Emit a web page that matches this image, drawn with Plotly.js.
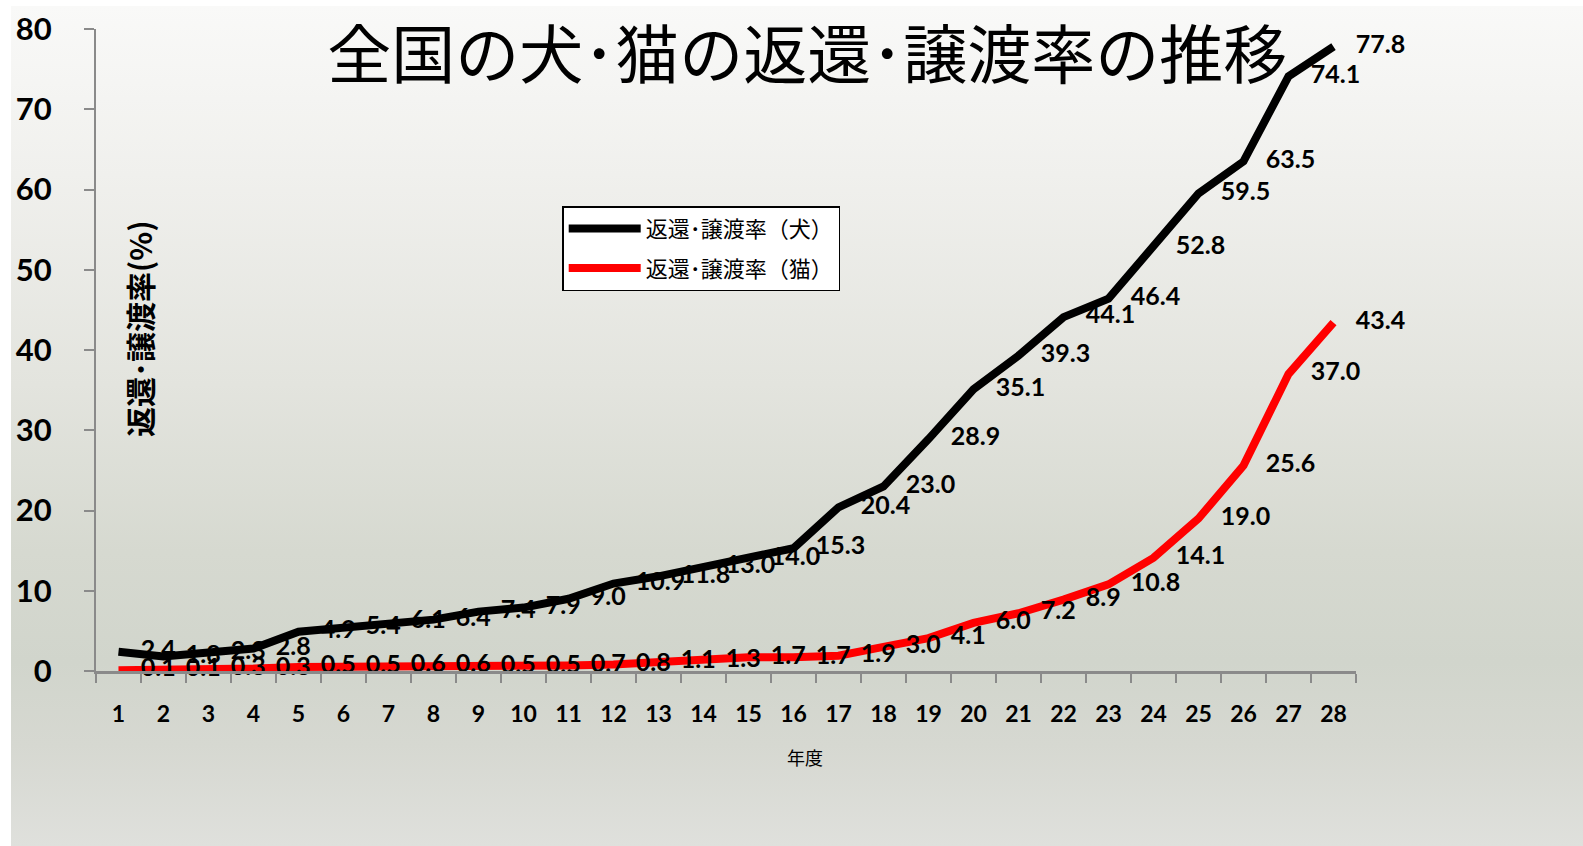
<!DOCTYPE html>
<html><head><meta charset="utf-8">
<script src="https://cdn.plot.ly/plotly-3.0.1.min.js"></script>
<style>
html,body{margin:0;padding:0;background:#ffffff;overflow:hidden;}
#bg{position:absolute;left:11px;top:6px;width:1572px;height:840px;
 background:linear-gradient(to bottom,#f9f9f8 0%,#f0f0ed 20%,#e3e4de 45%,#d6d9d0 65%,#d1d5cc 78%,#d6d8d1 88%,#dfe0dc 100%);}
#chart{position:absolute;left:0;top:0;width:1583px;height:846px;}
</style></head><body><div id="bg"></div><div id="chart"></div>
<script>
// ---- data ----
const years = ['1','2','3','4','5','6','7','8','9','10','11','12','13','14','15','16','17','18','19','20','21','22','23','24','25','26','27','28'];
const dogRate = [2.4,1.8,2.3,2.8,4.9,5.4,6.1,6.4,7.4,7.9,9.0,10.9,11.8,13.0,14.0,15.3,20.4,23.0,28.9,35.1,39.3,44.1,46.4,52.8,59.5,63.5,74.1,77.8];
const catRate = [0.1,0.1,0.3,0.3,0.5,0.5,0.6,0.6,0.5,0.5,0.7,0.8,1.1,1.3,1.7,1.7,1.9,3.0,4.1,6.0,7.2,8.9,10.8,14.1,19.0,25.6,37.0,43.4];
const dogName = '返還･譲渡率（犬）';
const catName = '返還･譲渡率（猫）';
const chartTitle = '全国の犬･猫の返還･譲渡率の推移';
const yTitle = '返還･譲渡率(%)';
const xTitle = '年度';

const numFont = 'Lato, "Open Sans", sans-serif';
const jpFont = '"Noto Sans CJK JP", sans-serif';

function series(y, name, color, group){
  return {
    x: years, y: y, name: name, type: 'scatter', mode: 'lines+markers+text',
    legendgroup: group,
    line: {color: color, width: 8},
    marker: {size: 34, color: 'rgba(0,0,0,0)'},
    texttemplate: '%{y:.1f}', textposition: 'middle right',
    textfont: {family: numFont, size: 25, weight: 'bold', color: '#000000'},
    cliponaxis: false, hoverinfo: 'x+y'
  };
}

const data = [series(dogRate, dogName, '#000000', 'dog'), series(catRate, catName, '#ff0000', 'cat')];

const layout = {
  width: 1583, height: 846,
  margin: {l: 96, r: 227, t: 29, b: 175, pad: 0},
  paper_bgcolor: 'rgba(0,0,0,0)', plot_bgcolor: 'rgba(0,0,0,0)',
  title: {text: chartTitle, x: 0.51, xanchor: 'center', xref: 'container', y: 0.934, yanchor: 'middle',
          font: {family: jpFont, size: 64, color: '#000000'}},
  xaxis: {type: 'category', range: [-0.5, 27.5], tickson: 'boundaries', ticks: 'outside', ticklen: 9,
          tickwidth: 2, tickcolor: '#8a8a8a', showline: true, linecolor: '#8a8a8a', linewidth: 3,
          showgrid: false, zeroline: false, ticklabelstandoff: 20,
          tickfont: {family: numFont, size: 23, weight: 'bold', color: '#000000'}},
  yaxis: {range: [0, 80], dtick: 10, tick0: 0, ticks: 'outside', ticklen: 10, tickwidth: 2,
          tickcolor: '#8a8a8a', showline: true, linecolor: '#8a8a8a', linewidth: 2,
          showgrid: false, zeroline: false, ticklabelstandoff: 26,
          tickfont: {family: numFont, size: 31, weight: 'bold', color: '#000000'}},
  legend: {x: 0.37, y: 0.724, xanchor: 'left', yanchor: 'top', bgcolor: '#ffffff',
           bordercolor: '#000000', borderwidth: 1.5, traceorder: 'grouped', tracegroupgap: 8,
           itemwidth: 72,
           font: {family: jpFont, size: 22, color: '#000000'}},
  annotations: [
    {text: yTitle, xref: 'paper', yref: 'paper', x: 0.034, y: 0.534, textangle: -90,
     showarrow: false, xanchor: 'center', yanchor: 'middle',
     font: {family: jpFont, size: 30, weight: 'bold', color: '#000000'}},
    {text: xTitle, xref: 'paper', yref: 'paper', x: 0.563, y: -0.134,
     showarrow: false, xanchor: 'center', yanchor: 'middle',
     font: {family: jpFont, size: 18, color: '#000000'}}
  ],
  showlegend: true
};

Plotly.newPlot('chart', data, layout, {displayModeBar: false, staticPlot: true});
</script></body></html>
